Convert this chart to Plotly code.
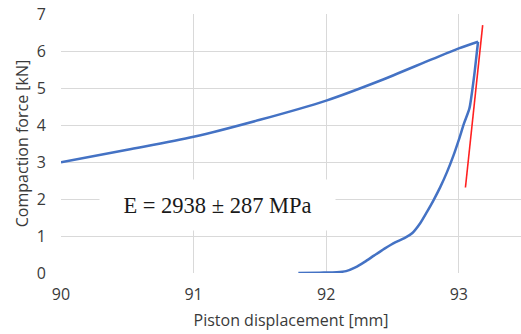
import plotly.graph_objects as go

# Loading branch: piston advancing into the powder bed
load_disp = [91.79, 91.95, 92.08, 92.15, 92.22, 92.29, 92.36, 92.44, 92.52, 92.59,
             92.65, 92.71, 92.76, 92.81, 92.86, 92.91, 92.96, 93.00, 93.04, 93.08,
             93.10, 93.12, 93.145]
load_force = [0.00, 0.01, 0.02, 0.05, 0.15, 0.30, 0.47, 0.66, 0.83, 0.94,
              1.08, 1.35, 1.65, 1.97, 2.32, 2.72, 3.18, 3.60, 4.05, 4.45,
              4.90, 5.45, 6.25]

# Unloading branch: piston retracting
unload_disp = [93.145, 93.00, 92.80, 92.40, 92.00, 91.50, 91.00, 90.50, 90.00]
unload_force = [6.25, 6.07, 5.78, 5.19, 4.66, 4.14, 3.68, 3.33, 2.99]

# Linear fit used for the modulus estimate
fit_disp = [93.05, 93.18]
fit_force = [2.31, 6.70]

x_ticks = [90, 91, 92, 93]
y_ticks = [0, 1, 2, 3, 4, 5, 6, 7]

modulus_label = "E = 2938 ± 287 MPa"

BLUE = "#4472C4"
RED = "#FF2020"
GRID = "#D9D9D9"
TEXT = "#3A3A3A"
FONT = "Open Sans"

fig = go.Figure()
fig.add_trace(go.Scatter(x=load_disp, y=load_force, mode="lines",
                         line=dict(color=BLUE, width=2.5, shape="spline", smoothing=0.7),
                         hoverinfo="skip"))
fig.add_trace(go.Scatter(x=unload_disp, y=unload_force, mode="lines",
                         line=dict(color=BLUE, width=2.5, shape="spline", smoothing=0.8),
                         hoverinfo="skip"))
fig.add_trace(go.Scatter(x=fit_disp, y=fit_force, mode="lines",
                         line=dict(color=RED, width=1.6), hoverinfo="skip"))

fig.add_annotation(x=91.18, y=1.84, xref="x", yref="y", text=modulus_label,
                   showarrow=False, bgcolor="white", width=233, height=48, borderpad=1,
                   font=dict(family="Liberation Serif", size=22.5, color="#1a1a1a"))

fig.update_layout(
    width=521, height=334,
    margin=dict(l=61, r=0, t=14, b=61),
    paper_bgcolor="white", plot_bgcolor="white",
    showlegend=False,
    font=dict(family=FONT, color=TEXT),
    xaxis=dict(range=[90, 93.469], tickvals=x_ticks, showgrid=True, gridcolor=GRID,
               gridwidth=1, zeroline=False, showline=False,
               tickfont=dict(size=16, color=TEXT), ticklabelstandoff=10,
               title=dict(text="Piston displacement [mm]", font=dict(size=16, color=TEXT),
                          standoff=10)),
    yaxis=dict(range=[0, 7], tickvals=y_ticks, showgrid=True, gridcolor=GRID,
               gridwidth=1, zeroline=False, showline=False,
               tickfont=dict(size=16, color=TEXT), ticklabelstandoff=14,
               title=dict(text="Compaction force [kN]", font=dict(size=16, color=TEXT),
                          standoff=4)),
)

fig.write_html("out.html")
